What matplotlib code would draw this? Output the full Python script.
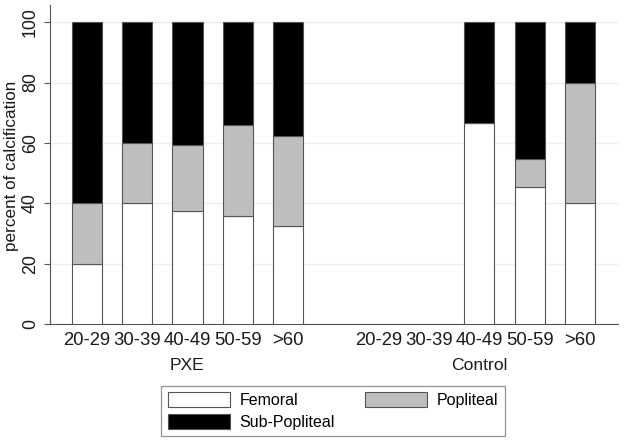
import numpy as np
import matplotlib
matplotlib.use("Agg")
import matplotlib.pyplot as plt
import matplotlib.transforms as mtransforms
from matplotlib.patches import Patch

plt.rcParams['font.family'] = ['Liberation Sans', 'DejaVu Sans']

age_groups = ["20-29", "30-39", "40-49", "50-59", ">60"]
groups = ["PXE", "Control"]
series = ["Femoral", "Popliteal", "Sub-Popliteal"]

# percent of calcification per age group (PXE, then Control)
pxe_femoral = [20.0, 40.0, 37.5, 35.7, 32.4]
pxe_popliteal = [20.0, 20.0, 21.9, 30.4, 29.9]
pxe_subpopliteal = [60.0, 40.0, 40.6, 33.9, 37.7]

ctrl_femoral = [0.0, 0.0, 66.7, 45.5, 40.0]
ctrl_popliteal = [0.0, 0.0, 0.0, 9.1, 40.0]
ctrl_subpopliteal = [0.0, 0.0, 33.3, 45.4, 20.0]

colors = {"Femoral": "white", "Popliteal": "#bebebe", "Sub-Popliteal": "black"}
edge = "#555555"

fig = plt.figure(figsize=(6.24, 4.46), dpi=100)
ax = fig.add_axes([50 / 624, 1 - 324 / 446, 568 / 624, 319 / 446])

gap = 5.81
pos = {"PXE": np.arange(len(age_groups)), "Control": np.arange(len(age_groups)) + gap}
data = {
    "PXE": [pxe_femoral, pxe_popliteal, pxe_subpopliteal],
    "Control": [ctrl_femoral, ctrl_popliteal, ctrl_subpopliteal],
}

for g in groups:
    bottom = np.zeros(len(age_groups))
    totals = np.sum(data[g], axis=0)
    show = totals > 0
    for name, vals in zip(series, data[g]):
        vals = np.array(vals)
        ax.bar(pos[g][show], vals[show], bottom=bottom[show], width=0.6,
               color=colors[name], edgecolor=edge, linewidth=0.8, zorder=3)
        bottom = bottom + vals

ax.set_xlim(-0.737, 10.57)
ax.set_ylim(0, 105.7)
ax.set_yticks([0, 20, 40, 60, 80, 100])
ax.yaxis.grid(True, color="#efefef", linewidth=1.0, zorder=0)
ax.set_axisbelow(True)

ticks = np.concatenate([pos["PXE"], pos["Control"]])
ax.set_xticks(ticks)
ax.set_xticklabels(age_groups * 2)
ax.tick_params(axis="x", length=0, pad=6, labelsize=13.3, colors="#1a1a1a")
ax.tick_params(axis="y", length=4, pad=4, labelsize=12.8, color="#555555",
               labelcolor="#1a1a1a", width=0.8)
for lab in ax.get_yticklabels():
    lab.set_rotation(90)
    lab.set_va("center")

ax.spines["top"].set_visible(False)
ax.spines["right"].set_visible(False)
ax.spines["left"].set_color("#555555")
ax.spines["bottom"].set_color("#555555")
ax.spines["left"].set_linewidth(0.8)
ax.spines["bottom"].set_linewidth(0.8)

ax.set_ylabel("percent of calcification", fontsize=12.3, color="#1a1a1a")
ax.yaxis.set_label_coords(-0.054, 0.495)

trans = mtransforms.blended_transform_factory(ax.transData, fig.transFigure)
for g in groups:
    ax.text(pos[g].mean(), 1 - 366 / 446, g, transform=trans, ha="center",
            va="center", fontsize=12.6, color="#1a1a1a")

handles = [Patch(facecolor=colors[s], edgecolor=edge, linewidth=0.8, label=s)
           for s in ["Femoral", "Sub-Popliteal", "Popliteal"]]
leg = fig.legend(handles=handles, ncol=2, loc="upper center",
                 bbox_to_anchor=(333 / 624, 1 - 386 / 446), fontsize=11.5,
                 frameon=True, fancybox=False, edgecolor="#777777",
                 handlelength=3.9, handleheight=1.0, handletextpad=0.6,
                 columnspacing=1.9, labelspacing=0.4, borderpad=0.4,
                 borderaxespad=0)
leg.get_frame().set_linewidth(0.9)

fig.savefig("out.png", dpi=100)
